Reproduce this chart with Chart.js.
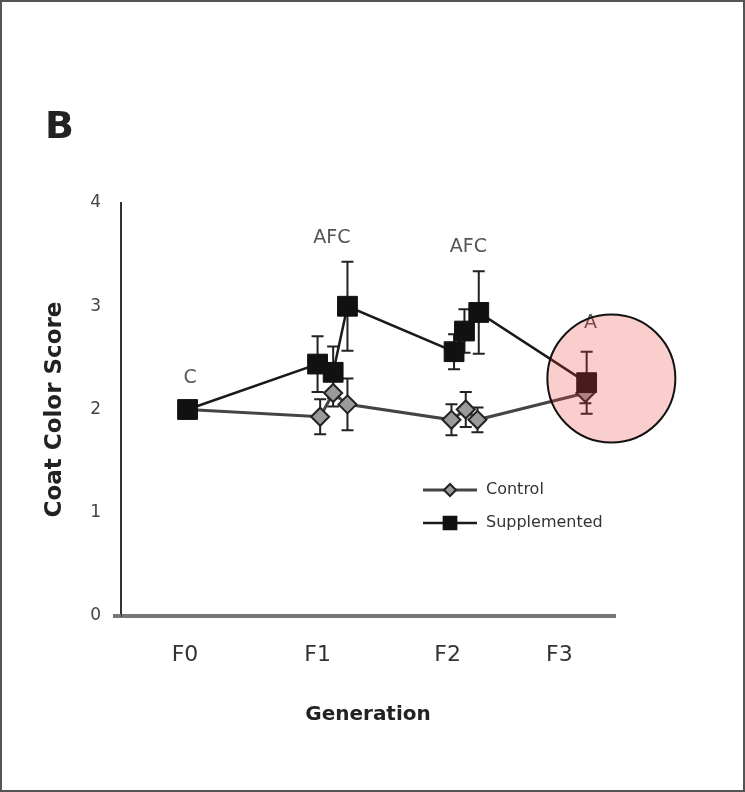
<!DOCTYPE html>
<html>
<head>
<meta charset="utf-8">
<script src="https://cdn.jsdelivr.net/npm/chart.js@4.4.1/dist/chart.umd.min.js"></script>
<style>
    html, body { margin: 0; padding: 0; background: #fff; }
    #contenedor { width: 745px; height: 792px; position: relative; }
</style>
</head>
<body>
<div id="contenedor"><canvas id="grafico-pelaje"></canvas></div>
<script>
// Generaciones en el eje x
const generaciones = ['F0', 'F1', 'F2', 'F3'];
const posGeneraciones = [0, 1.02, 2.02, 2.88];

// Grupo control
const controlX = [0.02, 1.04, 1.14, 1.25, 2.05, 2.16, 2.25, 3.08];
const controlY = [2.0, 1.93, 2.16, 2.05, 1.90, 2.00, 1.90, 2.16];
const controlErr = [0, 0.17, 0.13, 0.25, 0.15, 0.17, 0.12, 0.10];

// Grupo suplementado
const suplX = [0.02, 1.02, 1.14, 1.25, 2.07, 2.15, 2.26, 3.09];
const suplY = [2.0, 2.44, 2.36, 3.00, 2.56, 2.76, 2.94, 2.26];
const suplErr = [0, 0.27, 0.25, 0.43, 0.17, 0.21, 0.40, 0.30];

// Letras de significancia
const letras = ['C', 'AFC', 'AFC', 'A'];
const letrasX = [0.04, 1.13, 2.18, 3.12];
const letrasY = [2.30, 3.66, 3.57, 2.84];

const fuente = "'DejaVu Sans', sans-serif";

function puntos(xs, ys) {
    return xs.map((x, i) => ({ x: x, y: ys[i] }));
}

// Barras de error
const pluginErrores = {
    id: 'errores',
    beforeDatasetsDraw(chart) {
        const ctx = chart.ctx;
        const y = chart.scales.y;
        ctx.save();
        chart.data.datasets.forEach((ds, i) => {
            const meta = chart.getDatasetMeta(i);
            ctx.strokeStyle = '#222';
            ctx.lineWidth = 2;
            meta.data.forEach((p, j) => {
                const e = ds.errores[j];
                if (!e) return;
                const v = ds.data[j].y;
                const arriba = y.getPixelForValue(v + e);
                const abajo = y.getPixelForValue(v - e);
                ctx.beginPath();
                ctx.moveTo(p.x, arriba);
                ctx.lineTo(p.x, abajo);
                ctx.moveTo(p.x - 6, arriba);
                ctx.lineTo(p.x + 6, arriba);
                ctx.moveTo(p.x - 6, abajo);
                ctx.lineTo(p.x + 6, abajo);
                ctx.stroke();
            });
        });
        ctx.restore();
    }
};

// Textos, leyenda, marco y circulo
const pluginExtras = {
    id: 'extras',
    afterDraw(chart) {
        const ctx = chart.ctx;
        const sx = chart.scales.x;
        const sy = chart.scales.y;
        const area = chart.chartArea;
        ctx.save();

        // marco
        ctx.strokeStyle = '#555';
        ctx.lineWidth = 2;
        ctx.strokeRect(1, 1, 743, 790);

        // el eje x sobresale un poco a la izquierda
        ctx.strokeStyle = '#777';
        ctx.lineWidth = 4;
        ctx.beginPath();
        ctx.moveTo(area.left - 8, area.bottom);
        ctx.lineTo(area.left, area.bottom);
        ctx.stroke();

        // letra del panel
        ctx.fillStyle = '#222';
        ctx.font = "bold 38px " + fuente;
        ctx.textAlign = 'left';
        ctx.textBaseline = 'middle';
        ctx.fillText('B', 45, 128);

        // letras de significancia
        ctx.fillStyle = '#555';
        ctx.font = "19px " + fuente;
        ctx.textAlign = 'center';
        letras.forEach((t, i) => {
            ctx.fillText(t, sx.getPixelForValue(letrasX[i]), sy.getPixelForValue(letrasY[i]));
        });

        // leyenda
        const items = chart.data.datasets.slice().sort((a, b) => b.order - a.order);
        items.forEach((ds, i) => {
            const ly = 490 + i * 33;
            ctx.strokeStyle = ds.borderColor;
            ctx.lineWidth = ds.borderWidth;
            ctx.beginPath();
            ctx.moveTo(423, ly);
            ctx.lineTo(477, ly);
            ctx.stroke();
            ctx.fillStyle = ds.pointBackgroundColor;
            ctx.strokeStyle = ds.pointBorderColor;
            ctx.lineWidth = 2;
            Chart.helpers.drawPoint(ctx, {
                pointStyle: ds.pointStyle,
                radius: ds.pointStyle === 'rect' ? 9 : 6,
                rotation: 0,
                borderWidth: 2
            }, 450, ly);
            ctx.fillStyle = '#333';
            ctx.font = "16px " + fuente;
            ctx.textAlign = 'left';
            ctx.fillText(ds.label, 486, ly);
        });

        // circulo resaltado
        ctx.beginPath();
        ctx.arc(sx.getPixelForValue(3.28), sy.getPixelForValue(2.30), 64, 0, Math.PI * 2);
        ctx.fillStyle = 'rgba(240, 60, 60, 0.25)';
        ctx.fill();
        ctx.strokeStyle = '#111';
        ctx.lineWidth = 2;
        ctx.stroke();

        ctx.restore();
    }
};

const ctx = document.getElementById('grafico-pelaje').getContext('2d');
new Chart(ctx, {
    type: 'line',
    data: {
        datasets: [{
            label: 'Control',
            data: puntos(controlX, controlY),
            errores: controlErr,
            order: 2,
            borderColor: '#444',
            borderWidth: 3,
            pointStyle: 'rectRot',
            pointRadius: 9,
            pointBackgroundColor: '#9a9a9a',
            pointBorderColor: '#222',
            pointBorderWidth: 2,
            tension: 0
        }, {
            label: 'Supplemented',
            data: puntos(suplX, suplY),
            errores: suplErr,
            order: 1,
            borderColor: '#1a1a1a',
            borderWidth: 2.5,
            pointStyle: 'rect',
            pointRadius: 14,
            pointBackgroundColor: '#111',
            pointBorderColor: '#111',
            pointBorderWidth: 1,
            tension: 0
        }]
    },
    options: {
        responsive: true,
        maintainAspectRatio: false,
        animation: false,
        layout: { padding: { left: 0, top: 203, right: 130, bottom: 60 } },
        plugins: {
            legend: { display: false },
            tooltip: { enabled: false }
        },
        scales: {
            x: {
                type: 'linear',
                min: -0.492,
                max: 3.308,
                afterFit: (s) => { s.height = 116; },
                afterBuildTicks: (s) => { s.ticks = posGeneraciones.map(v => ({ value: v })); },
                grid: { display: false, drawTicks: false },
                border: { color: '#777', width: 4 },
                ticks: {
                    padding: 26,
                    color: '#333',
                    font: { family: fuente, size: 22 },
                    callback: (v, i) => generaciones[i]
                },
                title: {
                    display: true,
                    text: 'Generation',
                    color: '#222',
                    font: { family: fuente, size: 20, weight: 'bold' },
                    padding: { top: 0, bottom: 5 }
                }
            },
            y: {
                min: 0,
                max: 4,
                afterFit: (s) => { s.width = 121; },
                grid: { display: false, drawTicks: true, tickLength: 7, tickColor: '#333', tickWidth: 2 },
                border: { color: '#333', width: 2 },
                ticks: {
                    stepSize: 1,
                    padding: 13,
                    color: '#444',
                    font: { family: fuente, size: 17 }
                },
                title: {
                    display: true,
                    text: 'Coat Color Score',
                    color: '#222',
                    font: { family: fuente, size: 23, weight: 'bold' },
                    padding: { top: 41, bottom: 0 }
                }
            }
        }
    },
    plugins: [pluginErrores, pluginExtras]
});
</script>
</body>
</html>
